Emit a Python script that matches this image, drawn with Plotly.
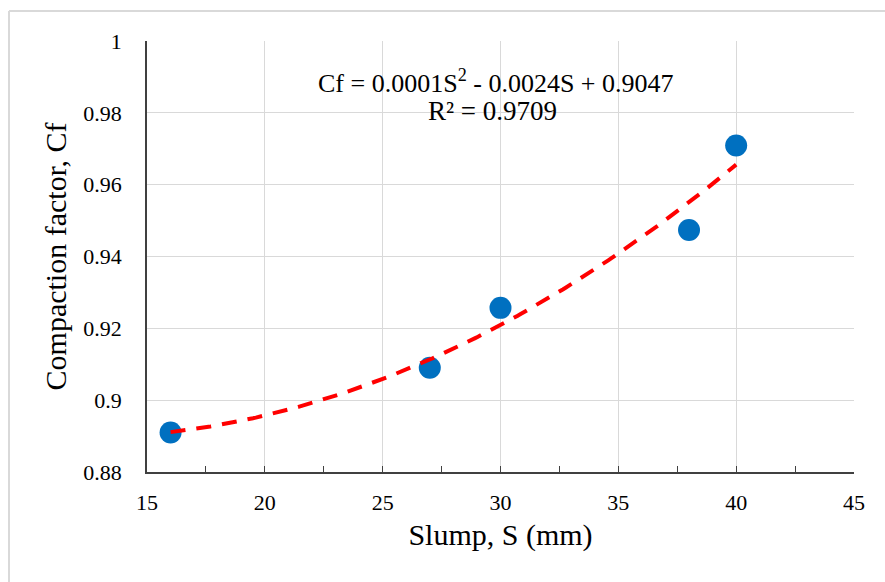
import numpy as np
import plotly.graph_objects as go

# Data
slump = [16, 27, 30, 38, 40]
cf = [0.891, 0.909, 0.9257, 0.9474, 0.9709]

x_ticks = [15, 20, 25, 30, 35, 40, 45]
y_ticks = [0.88, 0.9, 0.92, 0.94, 0.96, 0.98, 1.0]
y_tick_labels = ["0.88", "0.9", "0.92", "0.94", "0.96", "0.98", "1"]

eq_text = "Cf = 0.0001S<sup>2</sup> - 0.0024S + 0.9047"
r2_text = "R² = 0.9709"

# Polynomial (order 2) trendline fitted to the data
coef = np.polyfit(slump, cf, 2)
xs = np.linspace(min(slump), max(slump), 200)
ys = np.polyval(coef, xs)

FONT = "Liberation Serif"

fig = go.Figure()
fig.add_trace(go.Scatter(
    x=slump, y=cf, mode="markers",
    marker=dict(color="#0070C0", size=22, line=dict(width=0)),
    showlegend=False, hoverinfo="x+y",
))
fig.add_trace(go.Scatter(
    x=xs, y=ys, mode="lines",
    line=dict(color="#FF0000", width=4, dash="15px,11px"),
    showlegend=False, hoverinfo="skip",
))

L, R, T, B = 147, 31, 41, 110
W, H = 885, 582
pw, ph = W - L - R, H - T - B

fig.update_layout(
    width=W, height=H,
    margin=dict(l=L, r=R, t=T, b=B, pad=0),
    paper_bgcolor="white", plot_bgcolor="white",
    font=dict(family=FONT, color="#000000"),
    xaxis=dict(
        range=[15, 45], tickvals=x_ticks, ticktext=[str(v) for v in x_ticks],
        showgrid=True, gridcolor="#D9D9D9", gridwidth=1,
        showline=True, linecolor="#404040", linewidth=1.5,
        ticks="inside", ticklen=6, tickcolor="#404040", tickwidth=1,
        minor=dict(dtick=2.5, tick0=15, ticks="inside", ticklen=6,
                   tickcolor="#404040", tickwidth=1, showgrid=False),
        tickfont=dict(size=22, family=FONT, color="#000000"),
        ticklabelstandoff=10,
        zeroline=False,
        title=dict(text="Slump, S (mm)", font=dict(size=30, family=FONT, color="#000000"),
                   standoff=10),
    ),
    yaxis=dict(
        range=[0.88, 1.0], tickvals=y_ticks, ticktext=y_tick_labels,
        showgrid=True, gridcolor="#D9D9D9", gridwidth=1,
        showline=True, linecolor="#404040", linewidth=1.5,
        ticks="", zeroline=False,
        tickfont=dict(size=22, family=FONT, color="#000000"),
        ticklabelstandoff=19,
        title=dict(text="Compaction factor, Cf", font=dict(size=30, family=FONT, color="#000000"),
                   standoff=8),
    ),
)

fig.add_annotation(x=29.8, y=0.9888, xref="x", yref="y", text=eq_text,
                   showarrow=False, font=dict(size=26, family=FONT, color="#000000"),
                   xanchor="center", yanchor="middle")
fig.add_annotation(x=29.65, y=0.9805, xref="x", yref="y", text=r2_text,
                   showarrow=False, font=dict(size=27, family=FONT, color="#000000"),
                   xanchor="center", yanchor="middle")

# Outer gray frame (top and left visible in reference)
def px_x(p):
    return (p - L) / pw

def px_y(p):
    return (H - B - p) / ph

fig.add_shape(type="line", xref="paper", yref="paper",
              x0=px_x(9), x1=px_x(885), y0=px_y(11), y1=px_y(11),
              line=dict(color="#D9D9D9", width=2))
fig.add_shape(type="line", xref="paper", yref="paper",
              x0=px_x(9), x1=px_x(9), y0=px_y(11), y1=px_y(582),
              line=dict(color="#D9D9D9", width=2))

fig.write_html("out.html")
